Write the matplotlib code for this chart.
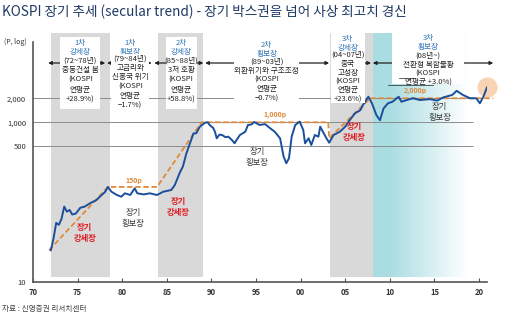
import numpy as np
import matplotlib
matplotlib.use('Agg')
import matplotlib.pyplot as plt
from matplotlib.patches import Rectangle

plt.rcParams['font.family'] = ['Noto Sans CJK KR', 'DejaVu Sans']

# KOSPI
kospi_year = [1972.0, 1972.3, 1972.6, 1972.9, 1973.2, 1973.5, 1973.8, 1974.1, 1974.4, 1974.8,
              1975.3, 1975.8, 1976.4, 1977.1, 1977.7, 1978.1, 1978.4, 1978.8, 1979.4, 1979.9,
              1980.3, 1980.9, 1981.4, 1981.7, 1982.4, 1983.1, 1983.9, 1984.6, 1985.5, 1985.9,
              1986.5, 1986.8, 1987.2, 1987.6, 1988.0, 1988.3, 1988.7, 1989.3, 1989.6, 1989.8,
              1990.2, 1990.4, 1990.6, 1990.9, 1991.2, 1991.6, 1991.9, 1992.3, 1992.6, 1992.9,
              1993.2, 1993.8, 1994.1, 1994.5, 1994.8, 1995.4, 1996.0, 1996.6, 1997.1, 1997.7,
              1998.1, 1998.4, 1998.7, 1999.0, 1999.4, 1999.9, 2000.3, 2000.5, 2000.9, 2001.2,
              2001.6, 2002.0, 2002.2, 2002.5, 2002.9, 2003.2, 2003.7, 2004.4, 2005.0, 2005.5,
              2006.1, 2006.7, 2007.0, 2007.6, 2008.0, 2008.5, 2008.9, 2009.3, 2009.8, 2010.3,
              2011.0, 2011.3, 2011.9, 2012.6, 2013.4, 2014.5, 2015.3, 2016.0, 2017.0, 2017.5,
              2018.2, 2019.0, 2019.7, 2020.1, 2020.5, 2020.9]
kospi_val = [25, 35, 55, 52, 62, 88, 76, 80, 70, 72,
             85, 88, 97, 106, 123, 135, 155, 135, 123, 117,
             129, 123, 149, 129, 125, 129, 123, 135, 142, 164,
             240, 278, 409, 546, 728, 728, 881, 990, 1000, 925,
             850, 760, 630, 700, 693, 650, 661, 600, 546, 620,
             693, 762, 925, 940, 1010, 925, 950, 841, 762, 631,
             371, 307, 355, 661, 925, 1020, 800, 546, 631, 520,
             693, 661, 881, 762, 631, 555, 693, 762, 881, 1060,
             1297, 1420, 1650, 2090, 1730, 1230, 1060, 1490, 1730, 1810,
             2090, 1810, 1900, 2000, 1900, 1950, 1870, 2050, 2200, 2480,
             2200, 2000, 2000, 1730, 2090, 2740]

# orange trend / box lines
trend_year = [1971.8, 1978.4, 1983.9, 1988.9, 2003.1, 2003.2, 2007.8, 2021.6]
trend_val = [25, 155, 155, 1000, 1000, 631, 2000, 2000]

grid_levels = [500, 1000, 2000]
xtick_years = list(range(1970, 2021, 5))
xtick_labels = ['70', '75', '80', '85', '90', '95', '00', '05', '10', '15', '20']
ytick_vals = [10, 500, 1000, 2000]
ytick_labels = ['10', '500', '1,000', '2,000']

grey_spans = [(1972.0, 1978.6), (1984.0, 1989.1), (2003.3, 2008.1)]
teal_span = (2008.1, 2019.3)

periods = [(1971.7, 1978.1), (1978.3, 1983.3), (1983.6, 1989.1),
           (1989.3, 2003.2), (2003.4, 2007.9), (2008.1, 2021.6)]

blue = '#1b4f9c'
orange = '#e08a3c'
red = '#e0191f'
head_blue = '#2e75b6'

fig = plt.figure(figsize=(5.12, 3.22), dpi=100)
ax = fig.add_axes([33 / 512, 1 - 282 / 322, 454 / 512, 240 / 322])


def fy(px):
    # pixel row -> axes fraction
    return (282 - px) / 240


xt = ax.get_xaxis_transform()

for a, b in grey_spans:
    ax.axvspan(a, b, ymin=fy(277), ymax=fy(33), color='#d9d9d9', lw=0, zorder=0, clip_on=False)

# teal band fading to white
teal = np.array([169, 221, 226]) / 255
n = 120
edges = np.linspace(teal_span[0], teal_span[1], n + 1)
for i in range(n):
    t = (i + 0.5) / n
    al = np.clip((0.95 - t) / 0.78, 0, 1)
    ax.axvspan(edges[i], edges[i + 1], ymin=fy(277), ymax=fy(33), color=teal, alpha=al,
               lw=0, zorder=0, clip_on=False)

for lv in grid_levels:
    ax.hlines(lv, 1970, 2019.3, color='#8c8c8c', lw=0.7, zorder=1)

ax.plot(trend_year, trend_val, color=orange, lw=1.3, ls=(0, (3, 1.5)), zorder=3, clip_on=False)
ax.scatter([kospi_year[-1]], [kospi_val[-1]], s=210, color='#f7c8a2', alpha=0.8, lw=0,
           zorder=2, clip_on=False)
ax.plot(kospi_year, kospi_val, color=blue, lw=1.4, zorder=4)

ax.set_yscale('log')
ax.set_xlim(1970, 2020.9)
ax.set_ylim(10, 10 ** (1 + 240 / 79.85))
ax.set_xticks(xtick_years)
ax.set_xticklabels(xtick_labels, fontweight='bold')
ax.set_yticks(ytick_vals)
ax.set_yticklabels(ytick_labels)
ax.minorticks_off()
ax.tick_params(axis='x', direction='in', length=3, width=0.8, color='#555555', labelsize=5.5,
               labelcolor='#333333', pad=4)
ax.tick_params(axis='y', length=0, labelsize=5.5, labelcolor='#333333', pad=5)
for s in ['top', 'right']:
    ax.spines[s].set_visible(False)
for s in ['left', 'bottom']:
    ax.spines[s].set_color('#555555')
    ax.spines[s].set_linewidth(1.2)
ax.set_facecolor('none')

fig.text(4 / 512, 1 - 42 / 322, '(P, log)', fontsize=5, color='#333333', va='center')

# period arrows
for a, b in periods:
    ax.annotate('', xy=(a, fy(63)), xytext=(b, fy(63)), xycoords=xt, textcoords=xt,
                arrowprops=dict(arrowstyle='<|-|>', color='#222222', lw=0.9, mutation_scale=5,
                                shrinkA=0, shrinkB=0), zorder=5, annotation_clip=False)

# white boxes
for x0, x1, y0, y1 in [(1973.0, 1977.5, 109, 37), (1984.9, 1988.4, 109, 37),
                       (2003.4, 2007.2, 103, 33), (2010.25, 2018.3, 84, 33)]:
    ax.add_patch(Rectangle((x0, fy(y0)), x1 - x0, fy(y1) - fy(y0), transform=xt,
                           facecolor='white', edgecolor='none', zorder=6, clip_on=False))

blocks = [
    (1975.3, 47.5, '1차\n강세장', 80, '(72~78년)\n중동건설 붐\n(KOSPI\n연평균\n+28.9%)', False, 1.3),
    (1980.9, 47.5, '1차\n횡보장', 82, '(79~84년)\n고금리와\n신흥국 위기\n(KOSPI\n연평균\n−1.7%)', True, 1.22),
    (1986.6, 47.5, '2차\n강세장', 80, '(85~88년)\n3저 호황\n(KOSPI\n연평균\n+58.8%)', False, 1.3),
    (1996.2, 49.5, '2차\n횡보장', 80, '(89~03년)\n외환위기와 구조조정\n(KOSPI\n연평균\n−0.7%)', True, 1.22),
    (2005.3, 43.5, '3차\n강세장', 77, '(04~07년)\n중국\n고성장\n(KOSPI\n연평균\n+23.6%)', False, 1.15),
    (2014.3, 42.5, '3차\n횡보장', 69, '(08년~)\n전환형 복합불황\n(KOSPI\n연평균 +3.0%)', False, 1.12),
]
for x, hy, head, by, body, boxed, ls in blocks:
    ax.text(x, fy(hy), head, transform=xt, ha='center', va='center', fontsize=5.5,
            color=head_blue, linespacing=ls, zorder=7)
    bb = dict(facecolor='white', edgecolor='none', pad=0.3) if boxed else None
    ax.text(x, fy(by), body, transform=xt, ha='center', va='center', fontsize=5.5,
            color='#222222', linespacing=ls, zorder=7, bbox=bb)

# underlines in the last box
ax.plot([2011.0, 2012.6], [fy(77.5), fy(77.5)], transform=xt, color='#222222', lw=0.5,
        zorder=8, clip_on=False)
ax.plot([2009.8, 2014.8], [fy(85), fy(85)], transform=xt, color='#222222', lw=0.5,
        zorder=8, clip_on=False)

# level labels
for x, y, s in [(1981.3, 181, '150p'), (1997.1, 115, '1,000p'), (2012.9, 90, '2,000p')]:
    ax.text(x, fy(y), s, transform=xt, ha='center', va='center', fontsize=5, color=orange,
            fontweight='bold', zorder=7)

# regime labels
for x, y, s, c in [(1975.8, 233, '장기\n강세장', red), (1981.2, 218, '장기\n횡보장', '#333333'),
                   (1986.3, 207, '장기\n강세장', red), (1995.1, 157, '장기\n횡보장', '#333333'),
                   (2006.0, 132, '장기\n강세장', red), (2015.6, 112, '장기\n횡보장', '#333333')]:
    ax.text(x, fy(y), s, transform=xt, ha='center', va='center', fontsize=6, color=c,
            fontweight='bold' if c == red else 'normal', linespacing=1.2, zorder=7)

fig.text(2 / 512, 1 - 12 / 322, 'KOSPI 장기 추세 (secular trend) - 장기 박스권을 넘어 사상 최고치 경신',
         fontsize=9.8, color='#1f3a64', va='center')
fig.text(2 / 512, 1 - 309 / 322, '자료 : 신영증권 리서치센터', fontsize=5.5, color='#444444', va='center')

fig.savefig('out.png', dpi=100)
